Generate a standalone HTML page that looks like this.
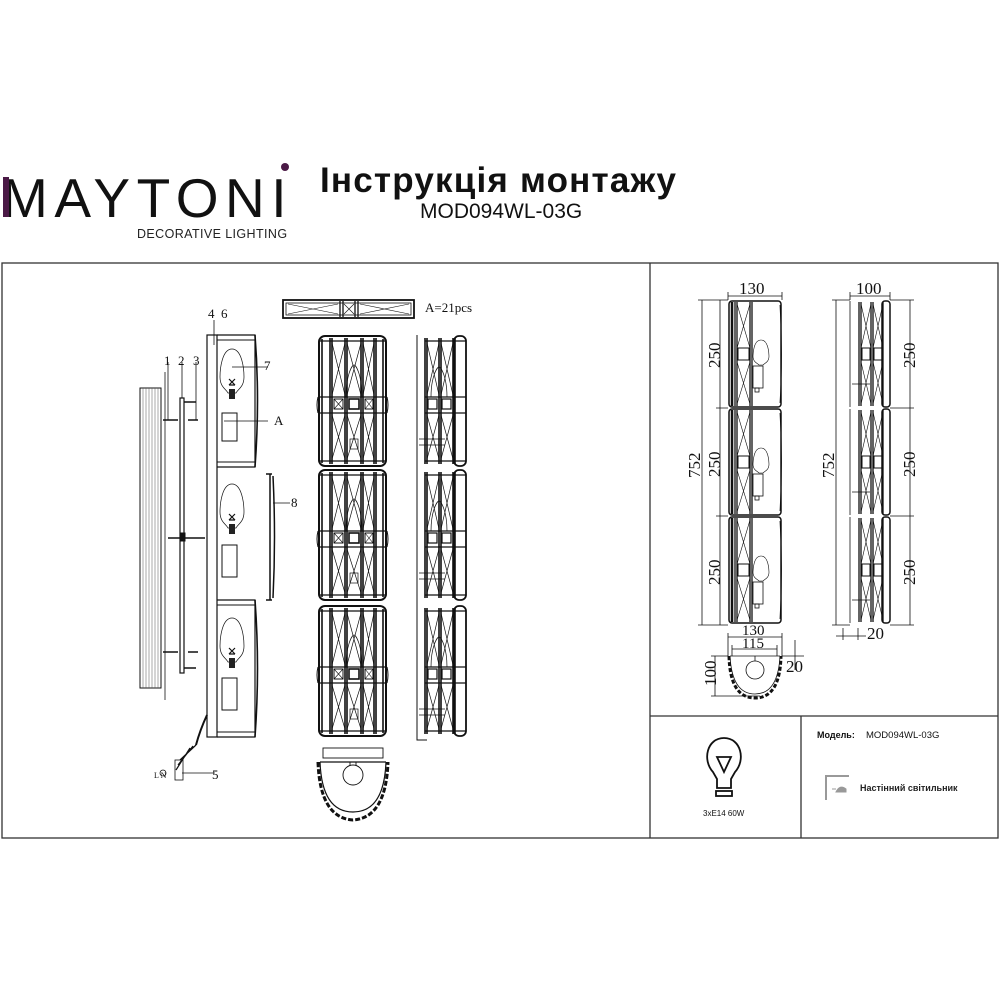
<!DOCTYPE html>
<html><head><meta charset="utf-8">
<style>
html,body{margin:0;padding:0;background:#fff;}
svg{display:block;}
</style></head>
<body>
<svg width="1000" height="1000" viewBox="0 0 1000 1000" xmlns="http://www.w3.org/2000/svg">
<defs>
  <g id="fs" fill="none" stroke="#111">
    <rect x="1" y="1" width="67" height="130" rx="6" stroke-width="2"/>
    <path d="M4 4V128M12 3V129M14 3V129M27 3V129M29 3V129M43 3V129M45 3V129M56 3V129M58 3V129M65 4V128" stroke-width="1.6"/>
    <path d="M2 6H67M2 126H67M2 62H67M2 78H67" stroke-width="1.2"/>
    <path d="M14 8L27 60M27 8L14 60M45 8L56 60M56 8L45 60M29 8L43 60M43 8L29 60M14 80L27 124M27 80L14 124M45 80L56 124M56 80L45 124M29 80L43 124M43 80L29 124" stroke-width="0.7"/>
    <rect x="16" y="64" width="9" height="10" stroke-width="1"/>
    <rect x="31" y="64" width="10" height="10" stroke-width="1.6"/>
    <rect x="47" y="64" width="8" height="10" stroke-width="1"/>
    <path d="M16 64L25 74M25 64L16 74M47 64L55 74M55 64L47 74" stroke-width="0.6"/>
    <path d="M28 62C28 40 34 30 36 30C38 30 44 40 44 62" stroke-width="0.7"/>
    <rect x="32" y="104" width="8" height="10" stroke-width="0.7"/>
    <path d="M0 62Q-2 70 0 78M69 62Q71 70 69 78" stroke-width="1"/>
  </g>
  <g id="ss" fill="none" stroke="#111">
    <path d="M8 3V129M10 3V129M22 3V129M24 3V129M36 3V129M38 3V129" stroke-width="1.6"/>
    <rect x="37" y="1" width="12" height="130" rx="5" stroke-width="1.8"/>
    <path d="M8 6H49M8 126H49M8 62H49M8 78H49" stroke-width="1.2"/>
    <path d="M10 8L22 60M22 8L10 60M24 8L36 60M36 8L24 60M10 80L22 124M22 80L10 124M24 80L36 124M36 80L24 124" stroke-width="0.7"/>
    <rect x="11" y="64" width="9" height="10" stroke-width="1.2"/>
    <rect x="25" y="64" width="9" height="10" stroke-width="1.2"/>
    <path d="M14 62C14 42 20 32 22 32C24 32 30 42 30 62" stroke-width="0.7"/>
    <path d="M2 104H28M2 110H28" stroke-width="0.7"/>
  </g>
  <g id="bulb" fill="none" stroke="#111">
    <path d="M0 0C-10 0 -12 20 -12 28C-12 38 -6 40 -4 44H4C6 40 12 38 12 28C12 20 10 0 0 0Z" stroke-width="0.7"/>
    <path d="M-3 30L3 36M3 30L-3 36M-3 36H3" stroke-width="1.2"/>
    <rect x="-3" y="40" width="6" height="10" fill="#222" stroke="none"/>
  </g>
  <g id="rf" fill="none" stroke="#111">
    <rect x="1" y="1" width="52" height="106" rx="3" stroke-width="1.5"/>
    <path d="M7 2V106M9 2V106M22 2V106M24 2V106" stroke-width="1.3"/>
    <path d="M9 4L22 48M22 4L9 48M9 62L22 104M22 62L9 104" stroke-width="0.6"/>
    <rect x="10" y="48" width="11" height="12" stroke-width="1"/>
    <path d="M33 40C26 40 25 52 25 56C25 62 29 63 31 65H35C37 63 41 62 41 56C41 52 40 40 33 40Z" stroke-width="0.6"/>
    <rect x="25" y="66" width="10" height="22" stroke-width="0.8"/>
    <rect x="27" y="88" width="4" height="4" stroke-width="0.8"/>
    <path d="M4 2V106" stroke-width="2.5"/>
    <path d="M52 5Q55 54 52 103" stroke-width="0.8"/>
  </g>
  <g id="rs" fill="none" stroke="#111">
    <path d="M0 1V107" stroke-width="0.8"/>
    <path d="M9 2V106M11 2V106M21 2V106M23 2V106M33 2V106" stroke-width="1.3"/>
    <rect x="32" y="1" width="8" height="106" rx="3" stroke-width="1.5"/>
    <path d="M11 4L21 48M21 4L11 48M23 4L33 48M33 4L23 48M11 62L21 104M21 62L11 104M23 62L33 104M33 62L23 104" stroke-width="0.6"/>
    <rect x="12" y="48" width="8" height="12" stroke-width="1"/>
    <rect x="24" y="48" width="8" height="12" stroke-width="1"/>
    <path d="M2 84H20" stroke-width="0.7"/>
  </g>
</defs>

<text x="2" y="217" font-family="Liberation Sans, sans-serif" font-size="55" letter-spacing="6.5" fill="#111">MAYTONI</text>
<rect x="3" y="177" width="6" height="40" fill="#4b1a46"/>
<circle cx="285" cy="167" r="4" fill="#4b1a46"/>
<text x="137" y="238" font-family="Liberation Sans, sans-serif" font-size="12.5" letter-spacing="0.4" fill="#222">DECORATIVE LIGHTING</text>
<text x="320" y="192" font-family="Liberation Sans, 'Noto Sans CJK SC', sans-serif" font-size="35" font-weight="bold" fill="#111" letter-spacing="1.2">Інструкція  монтажу</text>
<text x="420" y="218" font-family="Liberation Sans, sans-serif" font-size="21" fill="#111">MOD094WL-03G</text>

<g fill="none" stroke="#333" stroke-width="1.3">
  <rect x="2" y="263" width="996" height="575"/>
  <path d="M650 263V838M650 716H998M801 716V838"/>
</g>

<g fill="none" stroke="#111">
  <rect x="283" y="300" width="131" height="18" stroke-width="1.8"/>
  <rect x="286" y="303" width="125" height="12" stroke-width="0.8"/>
  <path d="M340 301V317M343 301V317M355 301V317M358 301V317" stroke-width="1.3"/>
  <path d="M288 304L338 314M288 314L338 304M360 304L409 314M360 314L409 304M344 304L354 314M354 304L344 314" stroke-width="0.6"/>
</g>
<text x="425" y="312" font-family="Liberation Serif, serif" font-size="13" fill="#111">A=21pcs</text>

<g fill="none" stroke="#111">
  <rect x="140" y="388" width="21" height="300" stroke-width="1"/>
  <g stroke-width="0.5" stroke="#555">
    <path d="M143 388V688M146 388V688M149 388V688M152 388V688M155 388V688M158 388V688"/>
  </g>
  <path d="M165 372V700" stroke-width="0.8"/>
  <rect x="180" y="398" width="4" height="275" stroke-width="1.2"/>
  <path d="M184 402H196M184 668H196M163 420H178M163 652H178M188 420H198M188 652H198M168 538H205" stroke-width="1.5"/>
  <rect x="180" y="533" width="5" height="8" fill="#111"/>
  <path d="M168 362V420M182 362V398M196 362V420" stroke-width="0.8"/>
  <rect x="207" y="335" width="10" height="402" stroke-width="1.2"/>
  <path d="M217 335H255V467H217M217 600H255V737H217M217 467H255M217 600H255" stroke-width="1.2"/>
  <path d="M217 340H255M217 462H255M217 605H255M217 732H255" stroke-width="1"/>
  <path d="M255 335Q260 400 255 467M255 600Q260 668 255 737" stroke-width="1.6"/>
  <path d="M270 474V600M266 474H272M266 600H272M273 476Q276 537 273 598" stroke-width="1.5"/>
  <rect x="222" y="413" width="15" height="28" stroke-width="1"/>
  <rect x="222" y="545" width="15" height="32" stroke-width="1"/>
  <rect x="222" y="678" width="15" height="32" stroke-width="1"/>
  <path d="M207 715Q200 730 196 745" stroke-width="2"/>
  <path d="M196 745L180 760M193 746L178 765M190 748L176 770" stroke-width="1.2"/>
  <rect x="175" y="760" width="8" height="20" stroke-width="0.8"/>
  <circle cx="163" cy="773" r="3" stroke-width="0.8"/>
  <path d="M182 773H215M224 421H268M273 503H290M232 367H268M214 320V345" stroke-width="0.8"/>
</g>
<use href="#bulb" x="232" y="349"/>
<use href="#bulb" x="232" y="484"/>
<use href="#bulb" x="232" y="618"/>
<g font-family="Liberation Serif, serif" font-size="13" fill="#111">
  <text x="164" y="365">1</text><text x="178" y="365">2</text><text x="193" y="365">3</text>
  <text x="208" y="318">4</text><text x="221" y="318">6</text><text x="264" y="370">7</text>
  <text x="274" y="425">A</text><text x="291" y="507">8</text><text x="212" y="779">5</text>
  <text x="154" y="778" font-size="8">L N</text>
</g>

<use href="#fs" x="318" y="335"/>
<use href="#fs" x="318" y="469"/>
<use href="#fs" x="318" y="605"/>
<path d="M417 335V740H427" fill="none" stroke="#111" stroke-width="1"/>
<use href="#ss" x="417" y="335"/>
<use href="#ss" x="417" y="469"/>
<use href="#ss" x="417" y="605"/>

<g fill="none" stroke="#111">
  <rect x="323" y="748" width="60" height="10" stroke-width="0.9"/>
  <path d="M320 762H386M320 762Q322 812 353 812Q384 812 386 762" stroke-width="1.2"/>
  <path d="M318 762Q320 818 353 820Q386 818 388 762" stroke-width="3" stroke-dasharray="5 2"/>
  <circle cx="353" cy="775" r="10" stroke-width="0.9"/>
  <path d="M350 762V766M356 762V766" stroke-width="0.9"/>
</g>

<use href="#rf" x="728" y="300"/>
<use href="#rf" x="728" y="408"/>
<use href="#rf" x="728" y="516"/>
<use href="#rs" x="850" y="300"/>
<use href="#rs" x="850" y="408"/>
<use href="#rs" x="850" y="516"/>
<g fill="none" stroke="#111" stroke-width="0.8">
  <path d="M728 296H782M728 292V300M782 292V300"/>
  <path d="M702 300V625M698 300H728M698 625H728"/>
  <path d="M720 300V625M716 408H728M716 516H728"/>
  <path d="M850 296H890M850 292V300M890 292V300"/>
  <path d="M836 300V625M832 300H850M832 625H850"/>
  <path d="M910 300V625M890 300H914M890 408H914M890 516H914M890 625H914"/>
  <path d="M843 628V640M858 628V640M836 636H866"/>
  <path d="M728 637H782M728 633V656M782 633V656M732 649H777M732 645V656M777 645V656"/>
  <path d="M715 656V696M711 656H728M711 696H760M782 656H804M795 640V670"/>
  <path d="M730 656H780M730 656Q732 694 755 694Q778 694 780 656"/>
  <path d="M729 656Q730 698 755 698Q780 698 781 656" stroke-width="3" stroke-dasharray="4 2"/>
  <circle cx="755" cy="670" r="9"/>
  <path d="M755 656V661"/>
</g>
<g font-family="Liberation Serif, serif" font-size="17" fill="#111">
  <text x="739" y="294">130</text>
  <text x="856" y="294">100</text>
  <text x="867" y="639">20</text>
  <text x="742" y="635" font-size="15">130</text>
  <text x="742" y="648" font-size="15">115</text>
  <text x="786" y="672">20</text>
  <text transform="translate(720,368) rotate(-90)">250</text>
  <text transform="translate(720,477) rotate(-90)">250</text>
  <text transform="translate(720,585) rotate(-90)">250</text>
  <text transform="translate(700,478) rotate(-90)">752</text>
  <text transform="translate(834,478) rotate(-90)">752</text>
  <text transform="translate(915,368) rotate(-90)">250</text>
  <text transform="translate(915,477) rotate(-90)">250</text>
  <text transform="translate(915,585) rotate(-90)">250</text>
  <text transform="translate(716,686) rotate(-90)">100</text>
</g>

<g fill="none" stroke="#111" stroke-width="1.8">
  <path d="M713 772C702 760 707 738 724 738C741 738 746 760 735 772L731 779V788H717V779Z"/>
  <path d="M717 757H731L724 772Z"/>
  <rect x="716" y="791" width="16" height="5"/>
</g>
<text x="703" y="816" font-family="Liberation Sans, sans-serif" font-size="8" fill="#111">3xE14 60W</text>
<text x="817" y="738" font-family="Liberation Sans, sans-serif" font-size="9" font-weight="bold" fill="#111">Модель:</text>
<text x="866" y="738" font-family="Liberation Sans, sans-serif" font-size="9.5" fill="#111">MOD094WL-03G</text>
<path d="M826 800V776H849" fill="none" stroke="#999" stroke-width="2"/>
<path d="M832 789H836M836 792Q840 784 846 789V792Z" fill="#999" stroke="#999" stroke-width="1"/>
<text x="860" y="791" font-family="Liberation Sans, sans-serif" font-size="9" font-weight="bold" fill="#222">Настінний світильник</text>
</svg>
</body></html>
